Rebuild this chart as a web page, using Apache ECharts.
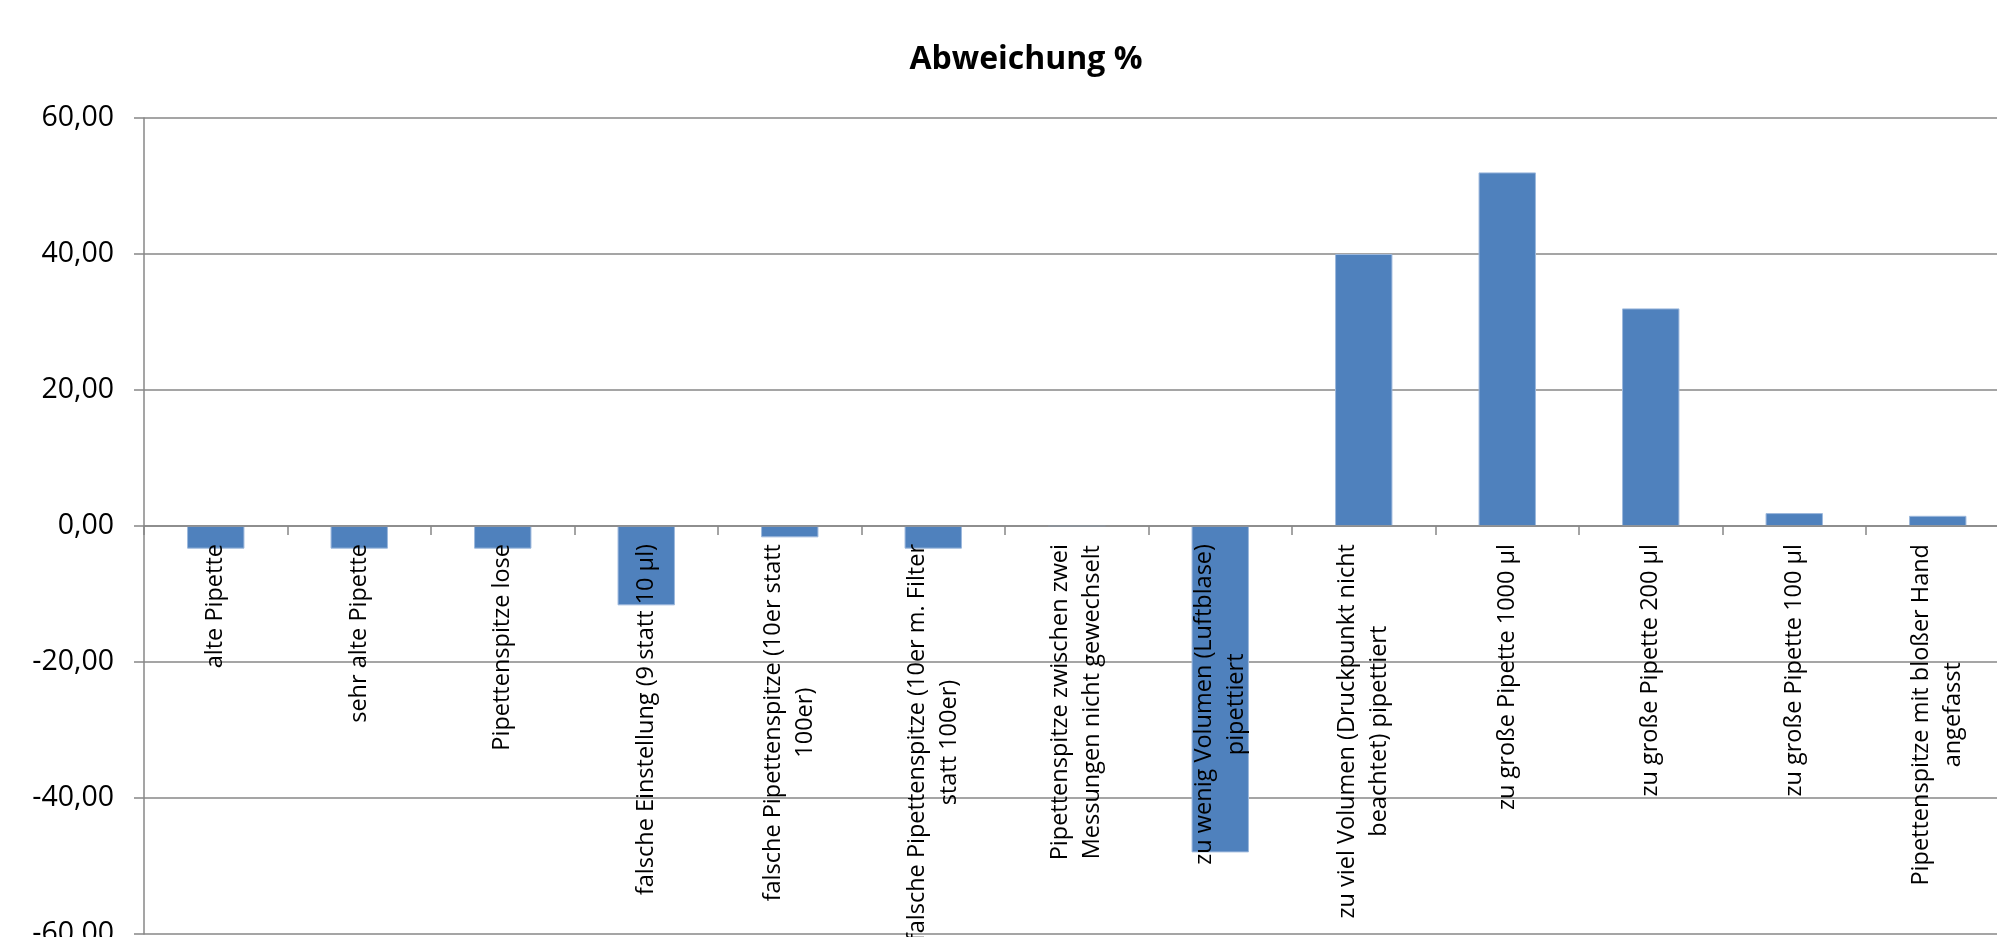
<!DOCTYPE html>
<html>
<head>
<meta charset="utf-8">
<title>Abweichung %</title>
<script src="https://cdn.jsdelivr.net/npm/echarts@6/dist/echarts.min.js"></script>
<style>
  html, body { margin: 0; padding: 0; background: #fff; }
  #chart { width: 1997px; height: 937px; }
</style>
</head>
<body>
<div id="chart"></div>
<script>
// Kategorien (Fehlerursachen)
var categories = [
  "alte Pipette",
  "sehr alte Pipette",
  "Pipettenspitze lose",
  "falsche Einstellung (9 statt 10 µl)",
  "falsche Pipettenspitze (10er statt\n100er)",
  "falsche Pipettenspitze (10er m. Filter\nstatt 100er)",
  "Pipettenspitze zwischen zwei\nMessungen nicht gewechselt",
  "zu wenig Volumen (Luftblase)\npipettiert",
  "zu viel Volumen (Druckpunkt nicht\nbeachtet) pipettiert",
  "zu große Pipette 1000 µl",
  "zu große Pipette 200 µl",
  "zu große Pipette 100 µl",
  "Pipettenspitze mit bloßer Hand\nangefasst"
];
// Abweichung in %
var abweichung = [-3.33, -3.33, -3.33, -11.67, -1.67, -3.33, 0, -48, 40, 52, 32, 1.9, 1.5];
var yTicks = [-60, -40, -20, 0, 20, 40, 60];

var gray = "#878787";
var font = "Open Sans";

var gridTop = 118;
var gridHeight = 816;
// x-Achse auf die Nulllinie schieben (Abstand von unten bis 0)
var zeroShift = gridHeight * (0 - yTicks[0]) / (yTicks[yTicks.length - 1] - yTicks[0]);

var myChart = echarts.init(document.getElementById("chart"), null, { renderer: "canvas" });

myChart.setOption({
  animation: false,
  backgroundColor: "#fff",
  title: {
    text: "Abweichung %",
    left: 1026,
    top: 60,
    padding: 0,
    textAlign: "center",
    textVerticalAlign: "middle",
    textStyle: {
      fontFamily: font,
      fontSize: 32,
      fontWeight: "bold",
      color: "#000"
    }
  },
  grid: {
    left: 144,
    top: gridTop,
    width: 1865.5,
    height: gridHeight,
    containLabel: false,
    outerBoundsMode: "none"
  },
  xAxis: {
    type: "category",
    data: categories,
    position: "bottom",
    offset: -zeroShift,
    z: 3,
    axisLine: {
      onZero: false,
      lineStyle: { color: gray, width: 1.5 }
    },
    axisTick: {
      show: true,
      interval: 0,
      length: 9,
      lineStyle: { color: gray, width: 1.5 }
    },
    axisLabel: {
      show: true,
      interval: 0,
      rotate: 90,
      margin: 18,
      color: "#000",
      fontFamily: font,
      fontSize: 23.5,
      lineHeight: 32,
      // Zeilen mittig zueinander ausrichten
      formatter: function (value) {
        return value.split("\n").map(function (s) {
          return "{c|" + s + "}";
        }).join("\n");
      },
      rich: {
        c: {
          align: "center",
          color: "#000",
          fontFamily: font,
          fontSize: 23.5,
          lineHeight: 32
        }
      }
    },
    splitLine: { show: false }
  },
  yAxis: {
    type: "value",
    min: yTicks[0],
    max: yTicks[yTicks.length - 1],
    interval: 20,
    axisLine: {
      show: true,
      lineStyle: { color: gray, width: 1.5 }
    },
    axisTick: {
      show: true,
      length: 10,
      lineStyle: { color: gray, width: 1.5 }
    },
    axisLabel: {
      margin: 30,
      color: "#000",
      fontFamily: font,
      fontSize: 28.5,
      formatter: function (v) {
        return v.toFixed(2).replace(".", ",");
      }
    },
    splitLine: {
      show: true,
      lineStyle: { color: gray, width: 1.5 }
    }
  },
  series: [
    {
      name: "Abweichung %",
      type: "bar",
      data: abweichung,
      barWidth: "40%",
      silent: true,
      itemStyle: {
        color: "#4F81BD",
        borderColor: "#9DB8DC",
        borderWidth: 1
      }
    }
  ]
});
</script>
</body>
</html>
